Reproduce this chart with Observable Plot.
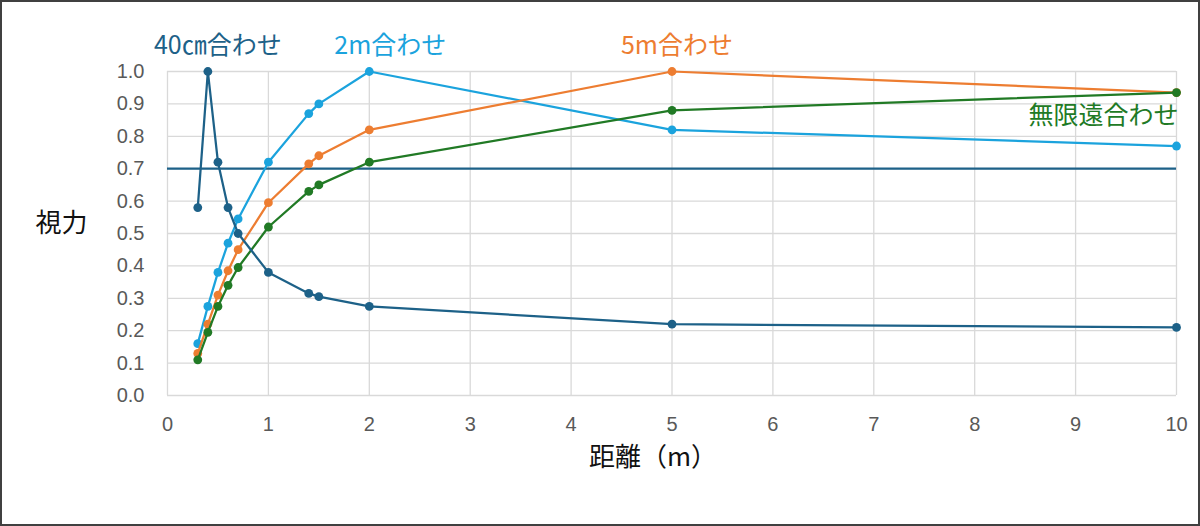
<!DOCTYPE html>
<html>
<head>
<meta charset="utf-8">
<script src="https://cdn.jsdelivr.net/npm/d3@7"></script>
<script src="https://cdn.jsdelivr.net/npm/@observablehq/plot@0.6"></script>
<style>
  html, body { margin: 0; padding: 0; background: #fff; }
  #wrap { position: relative; width: 1200px; height: 526px; overflow: hidden; }
  #wrap svg { position: absolute; left: 0; top: 0; }
  #frame { position: absolute; inset: 0; border: 2px solid #404040; box-sizing: border-box; pointer-events: none; }
</style>
</head>
<body>
<div id="wrap"><div id="frame"></div></div>
<script>
// Distances (m)
const distances = [0.3, 0.4, 0.5, 0.6, 0.7, 1, 1.4, 1.5, 2, 5, 10];
// Visual acuity per focus setting
const va40cm = [0.58, 1.0, 0.72, 0.58, 0.50, 0.38, 0.315, 0.305, 0.275, 0.22, 0.21];
const va2m   = [0.16, 0.275, 0.38, 0.47, 0.545, 0.72, 0.87, 0.90, 1.0, 0.82, 0.77];
const va5m   = [0.13, 0.22, 0.31, 0.385, 0.45, 0.595, 0.715, 0.74, 0.82, 1.0, 0.935];
const vaInf  = [0.11, 0.195, 0.275, 0.34, 0.395, 0.52, 0.63, 0.65, 0.72, 0.88, 0.935];

const seriesNames  = ["40㎝合わせ", "2m合わせ", "5m合わせ", "無限遠合わせ"];
const seriesValues = [va40cm, va2m, va5m, vaInf];
const seriesColors = ["#1d6188", "#1ba3dd", "#ed7d31", "#217a25"];
const drawOrder = [1, 2, 3, 0];

const threshold = 0.7;
const xTicks = [0, 1, 2, 3, 4, 5, 6, 7, 8, 9, 10];
const yTicks = [0, 0.1, 0.2, 0.3, 0.4, 0.5, 0.6, 0.7, 0.8, 0.9, 1.0];
const xTitle = "距離（m）";
const yTitle = "視力";

// label anchoring: index of data point + offsets (styling)
const labelPointIndex = [1, 8, 9, 10];
const labelDx = [10, 21, 5, 2];
const labelDy = [-26, -26, -26, 23];
const labelAnchor = ["middle", "middle", "middle", "end"];

const font = "'Noto Sans CJK JP', 'Noto Sans', sans-serif";
const tickFont = "'Liberation Sans', Arial, sans-serif";

const seriesRows = seriesNames.map((name, s) =>
  distances.map((d, i) => ({ series: name, x: d, y: seriesValues[s][i] }))
);

const labelRows = seriesNames.map((name, s) => ({
  text: name,
  x: distances[labelPointIndex[s]],
  y: seriesValues[s][labelPointIndex[s]],
  color: seriesColors[s],
  dx: labelDx[s], dy: labelDy[s], anchor: labelAnchor[s]
}));

const marks = [
  Plot.gridX(xTicks, { stroke: "#d9d9d9", strokeOpacity: 1, strokeWidth: 1.3 }),
  Plot.gridY(yTicks, { stroke: "#d9d9d9", strokeOpacity: 1, strokeWidth: 1.3 }),
  Plot.ruleY([threshold], { stroke: seriesColors[0], strokeWidth: 2.25 }),
];
for (const s of drawOrder) {
  marks.push(Plot.line(seriesRows[s], { x: "x", y: "y", stroke: seriesColors[s], strokeWidth: 2.25 }));
  marks.push(Plot.dot(seriesRows[s], { x: "x", y: "y", fill: seriesColors[s], r: 4.4, stroke: "none" }));
}
for (const l of labelRows) {
  marks.push(Plot.text([l], {
    x: "x", y: "y", text: "text", fill: l.color, dx: l.dx, dy: l.dy,
    textAnchor: l.anchor, fontSize: 25, fontFamily: font
  }));
}
marks.push(
  Plot.axisX(xTicks, { tickSize: 0, tickPadding: 21, fontSize: 20, fontFamily: tickFont, label: null, tickFormat: d3.format("d") }),
  Plot.axisY(yTicks, { tickSize: 0, tickPadding: 23, fontSize: 20, fontFamily: tickFont, label: null, tickFormat: d3.format(".1f") }),
  Plot.text([yTitle], { frameAnchor: "left", dx: -106, dy: -10, textAnchor: "middle", fontSize: 26, fill: "#111", fontFamily: font }),
  Plot.text([xTitle], { frameAnchor: "bottom", dx: -19, dy: 70, textAnchor: "middle", fontSize: 26, fill: "#111", fontFamily: font })
);

const chart = Plot.plot({
  width: 1200,
  height: 526,
  marginLeft: 167,
  marginRight: 24,
  marginTop: 71,
  marginBottom: 131,
  x: { domain: [0, 10], axis: null },
  y: { domain: [0, 1.0], axis: null },
  style: { fontFamily: font, fontSize: "20px", color: "#595959", background: "transparent", overflow: "visible" },
  marks
});
document.getElementById("wrap").insertBefore(chart, document.getElementById("frame"));
</script>
</body>
</html>
